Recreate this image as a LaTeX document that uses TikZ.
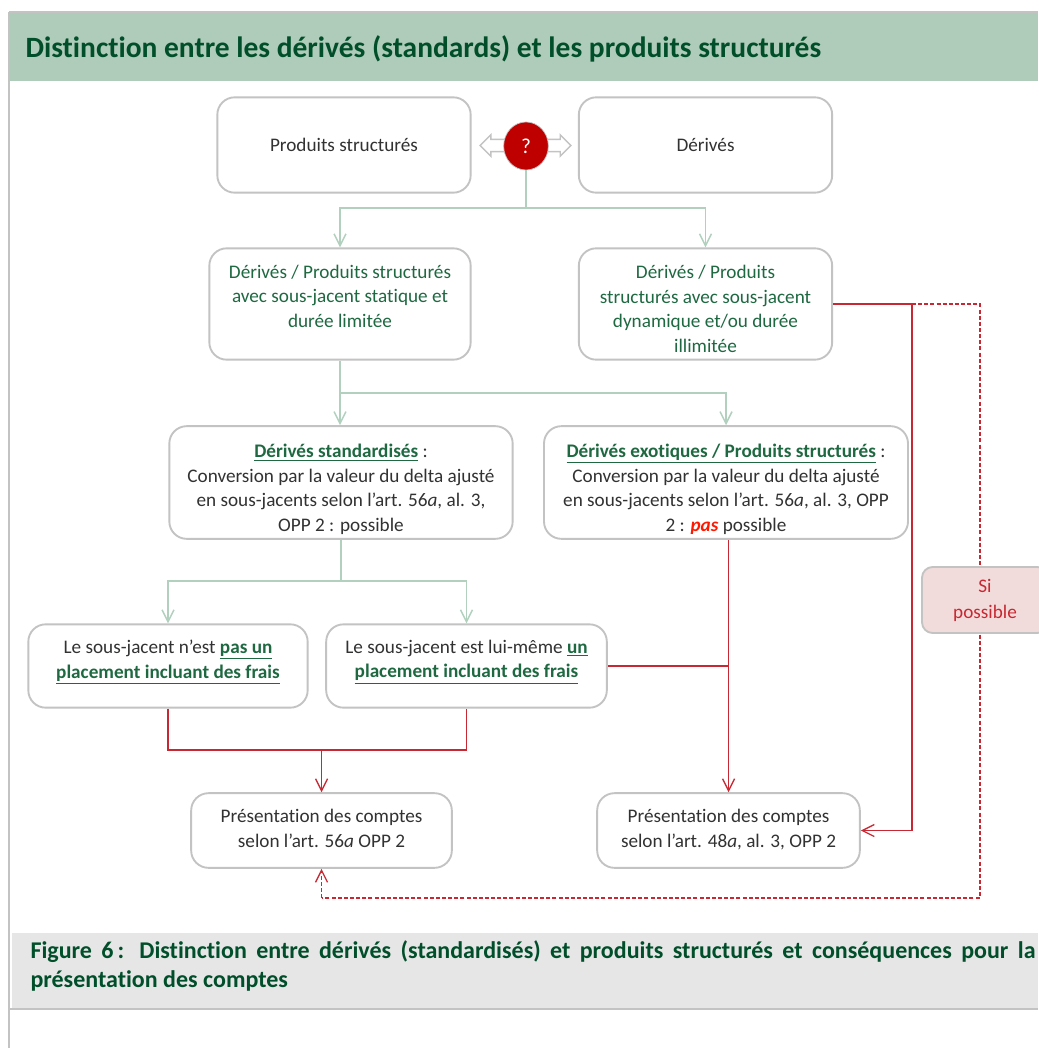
\documentclass[tikz,border=0pt]{standalone}
\usepackage{fontspec}
\setmainfont[Ligatures=NoCommon]{Carlito}
\usetikzlibrary{arrows.meta,shapes.geometric,shapes.arrows}

\definecolor{bandgreen}{RGB}{175,203,185}
\definecolor{titlegreen}{RGB}{0,79,42}
\definecolor{textgreen}{RGB}{30,105,65}
\definecolor{bodygray}{RGB}{50,50,50}
\definecolor{linegreen}{RGB}{178,208,190}
\definecolor{linered}{RGB}{200,40,50}
\definecolor{panelgray}{RGB}{195,195,195}
\definecolor{pinkfill}{RGB}{242,220,219}
\definecolor{capgray}{RGB}{230,230,230}

\tikzset{
  every picture/.style={line width=0.75pt},
  panel/.style={draw=panelgray,line width=1.4pt,fill=white,rounded corners=13pt,align=center,
    inner sep=0pt,text=bodygray,font=\fontsize{14.4}{18.4}\selectfont},
  greentext/.style={panel,text=textgreen},
  greenline/.style={draw=linegreen,line width=1.1pt},
  greenarrow/.style={greenline,-{Straight Barb[length=9pt,width=9pt]}},
  redline/.style={draw=linered,line width=1pt},
  redarrow/.style={redline,-{Straight Barb[length=9pt,width=9pt]}},
  reddash/.style={redline,dash pattern=on 3pt off 1.6pt},
}
\newcommand{\hl}[1]{\textbf{\textcolor{textgreen}{\underline{#1}}}}
\newcommand{\tall}[1]{\rule{0pt}{#1}}
\newcommand{\deep}[1]{\rule[-#1]{0pt}{1pt}}

\begin{document}
\begin{tikzpicture}[x=0.75pt,y=0.75pt,yscale=-1,xscale=1]
\useasboundingbox (0,0) rectangle (1038,1048);
\fill[white] (0,0) rectangle (1038,1048);

% Page frame
\fill[capgray] (12,933) rectangle (1038,1008);
\draw[panelgray,line width=1.5pt] (9,12) -- (9,1048);
\draw[panelgray,line width=1.5pt] (10,1008.5) -- (1038,1008.5);
\fill[bandgreen] (10,13) rectangle (1038,81);
\draw[panelgray,line width=1.5pt] (9,12.5) -- (1038,12.5);

% Text Node
\node (title) [anchor=west,inner sep=0pt,text=titlegreen,font=\fontsize{22.1}{26}\selectfont\bfseries] at (25,49)
  {Distinction entre les dérivés (standards) et les produits structurés};
\node (caption) [anchor=north west,inner sep=0pt,text=titlegreen,text width=753.75pt,align=justify,
  font=\fontsize{18}{21.8}\selectfont\bfseries] at (30,940)
  {Figure 6\,: Distinction entre dérivés (standardisés) et produits structurés et conséquences pour la\linebreak présentation des comptes};

% Shape: double arrow behind the question mark
\node (both) [double arrow,draw=panelgray,fill=white,line width=1pt,minimum height=68pt,
  inner sep=0pt,double arrow head extend=3.4pt] at (525.5,145.5) {\rule{0pt}{8.2pt}};
\node (ask) [ellipse,fill=black!25!red,draw=panelgray,line width=0.5pt,minimum width=33.5pt,minimum height=36pt,inner sep=0pt,
  text=white,font=\fontsize{16}{18}\selectfont] at (526,146) {?};

% Boxes
\node (prod) [panel,minimum width=190pt,minimum height=71.5pt] at (344,145) {Produits structurés};
\node (deriv) [panel,minimum width=190pt,minimum height=71.5pt] at (705.5,145) {Dérivés};
\node (stat) [greentext,minimum width=196pt,minimum height=83.5pt] at (340,304)
  {Dérivés / Produits structurés\\avec sous-jacent statique et\\durée limitée\deep{12pt}};
\node (dyn) [greentext,minimum width=190pt,minimum height=83.5pt] at (705.5,304)
  {\tall{17.5pt}Dérivés / Produits\\structurés avec sous-jacent\\dynamique et/ou durée\\illimitée};
\node (std) [panel,minimum width=257.5pt,minimum height=84.5pt] at (341,482.5)
  {\tall{20.5pt}\hl{Dérivés standardisés} :\\Conversion par la valeur du delta ajusté\\en sous-jacents selon l’art. 56\textit{a}, al. 3,\\OPP 2 : possible};
\node (exo) [panel,minimum width=273pt,minimum height=84.5pt] at (726,482.5)
  {\tall{20.5pt}\hl{Dérivés exotiques / Produits structurés} :\\Conversion par la valeur du delta ajusté\\en sous-jacents selon l’art. 56\textit{a}, al. 3, OPP\\2 : \textbf{\textit{\textcolor{red!80!orange}{pas}}} possible};
\node (nopl) [panel,minimum width=209.5pt,minimum height=62.5pt] at (168,666)
  {Le sous-jacent n’est \hl{pas un}\\\hl{placement incluant des frais}\deep{10.5pt}};
\node (pl) [panel,minimum width=210.5pt,minimum height=62.5pt] at (466.5,666)
  {Le sous-jacent est lui-même \hl{un}\\\hl{placement incluant des frais}\deep{10.5pt}};
\node (pres1) [panel,minimum width=195.5pt,minimum height=56pt] at (321.5,830.5)
  {Présentation des comptes\\selon l’art. 56\textit{a} OPP 2\deep{3.5pt}};
\node (pres2) [panel,minimum width=197pt,minimum height=56pt] at (728.5,830.5)
  {Présentation des comptes\\selon l’art. 48\textit{a}, al. 3, OPP 2\deep{3.5pt}};

% Branch points
\coordinate (askfork) at (ask.south |- 0,208);
\coordinate (statfork) at (stat.south |- 0,393);
\coordinate (stdfork) at (std.south |- 0,581);
\coordinate (lowfork) at (pres1.north |- 0,750);
\coordinate (turn) at (912,304);
\coordinate (dashtop) at (980,304);
\coordinate (dashlow) at (980,898);

%Straight Lines
\draw[greenline] (ask) -- (askfork);
\draw[greenarrow] (askfork) -| (stat.north);
\draw[greenarrow] (askfork) -| (dyn.north);
\draw[greenline] (stat.south) -- (statfork);
\draw[greenarrow] (statfork) -- (statfork |- std.north);
\draw[greenarrow] (statfork) -| (exo.north);
\draw[greenline] (std.south) -- (stdfork);
\draw[greenarrow] (stdfork) -| (nopl.north);
\draw[greenarrow] (stdfork) -| (pl.north);

%Red Lines
\draw[redline] (nopl.south) |- (lowfork) -| (pl.south);
\draw[redarrow] (lowfork) -- (pres1.north);
\draw[redarrow] (exo.south -| pres2.north) -- (pres2.north);
\draw[redline] (pl.east) -- (pl.east -| pres2.north);
\draw[redarrow] (dyn.east) -- (turn) |- (pres2.east);
\draw[reddash] (turn) -- (dashtop) -- (dashlow) -- (dashlow -| pres1.south);
\draw[reddash,-{Straight Barb[length=9pt,width=9pt]}] (dashlow -| pres1.south) -- (pres1.south);

% Text Node
\node (maybe) [panel,draw=panelgray,fill=pinkfill,text=linered,minimum width=94.5pt,minimum height=49.5pt,rounded corners=8pt,
  font=\fontsize{14.4}{19.5}\selectfont] at (985,600)
  {Si\\possible};
\end{tikzpicture}
\end{document}
